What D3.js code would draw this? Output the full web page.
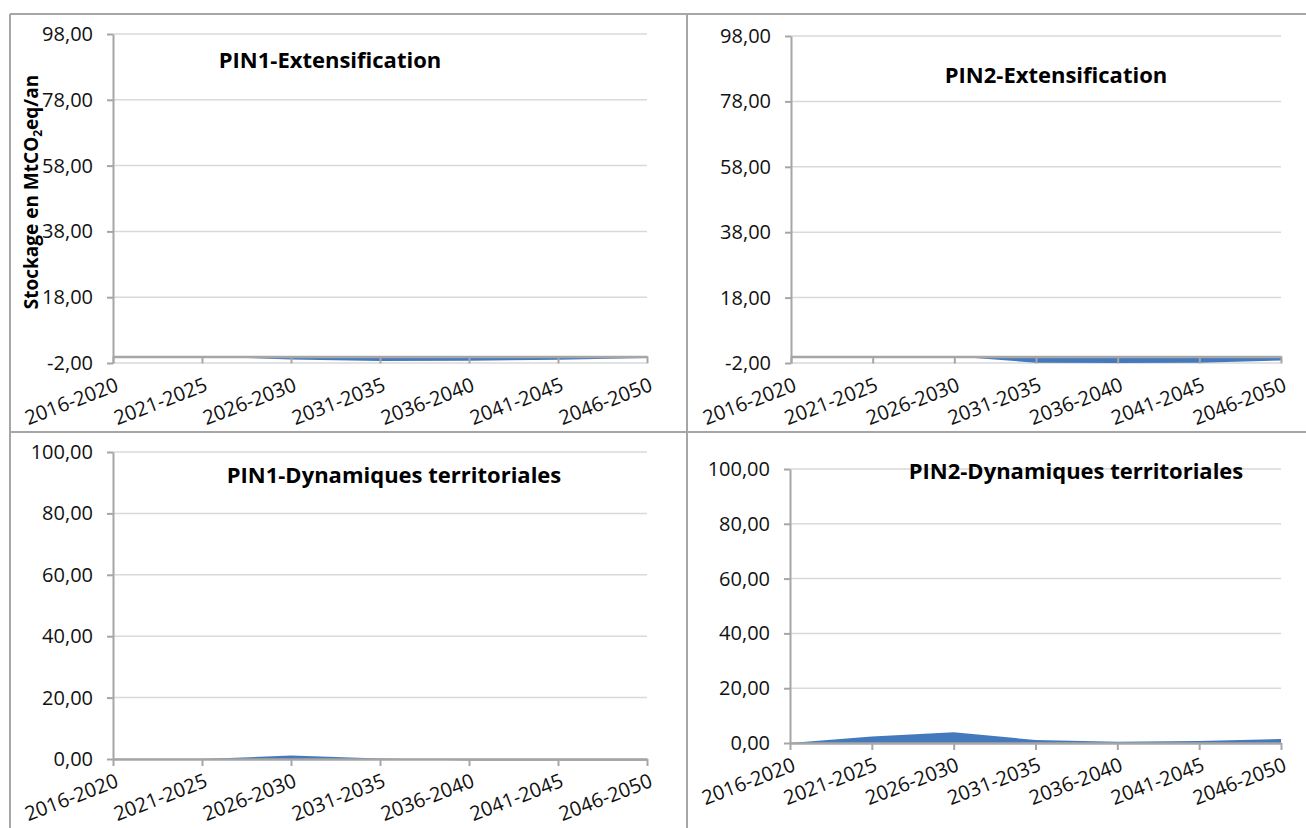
<!DOCTYPE html>
<html>
<head>
<meta charset="utf-8">
<script src="https://cdn.jsdelivr.net/npm/d3@7"></script>
<style>
  body { margin: 0; background: #fff; }
  svg { display: block; font-family: "Open Sans", Lato, sans-serif; }
</style>
</head>
<body>
<svg id="chart" width="1306" height="828"></svg>
<script>
// periods on the x axis (shared by the four panels)
const categories = ['2016-2020', '2021-2025', '2026-2030', '2031-2035', '2036-2040', '2041-2045', '2046-2050'];

// storage values, MtCO2eq/an
const pin1ExtValues = [0, -0.1, -0.9, -1.4, -1.3, -1.0, -0.5];
const pin2ExtValues = [0, 0, 0, -1.9, -2.0, -1.9, -1.2];
const pin1DynValues = [0, 0, 1.1, 0.2, -0.5, -0.5, -0.5];
const pin2DynValues = [0, 2.4, 3.9, 1.1, 0.5, 0.7, 1.5];

// y tick labels
const extTicks = [-2, 18, 38, 58, 78, 98];
const dynTicks = [0, 20, 40, 60, 80, 100];

const titles = ['PIN1-Extensification', 'PIN2-Extensification',
                'PIN1-Dynamiques territoriales', 'PIN2-Dynamiques territoriales'];

const svg = d3.select('#chart');

const fmt = d3.formatLocale({ decimal: ',', thousands: ' ', grouping: [3], currency: ['', '€'], minus: '-' })
    .format('.2f');

const panels = [
    { values: pin1ExtValues, ticks: extTicks, title: titles[0],
      left: 113, right: 647, top: 34, bottom: 363, tx: 330, ty: 68 },
    { values: pin2ExtValues, ticks: extTicks, title: titles[1],
      left: 791, right: 1281, top: 36, bottom: 363, tx: 1056, ty: 83 },
    { values: pin1DynValues, ticks: dynTicks, title: titles[2],
      left: 113, right: 647, top: 452, bottom: 759, tx: 394, ty: 483 },
    { values: pin2DynValues, ticks: dynTicks, title: titles[3],
      left: 790, right: 1281, top: 469, bottom: 743, tx: 1076, ty: 479 }
];

// frame around the panels
const frame = svg.append('g')
    .attr('stroke', '#a6a6a6')
    .attr('stroke-width', 2);
frame.append('line').attr('x1', 10).attr('x2', 1306).attr('y1', 14).attr('y2', 14);
frame.append('line').attr('x1', 10).attr('x2', 1306).attr('y1', 432).attr('y2', 432);
frame.append('line').attr('x1', 10).attr('x2', 10).attr('y1', 14).attr('y2', 828);
frame.append('line').attr('x1', 687).attr('x2', 687).attr('y1', 14).attr('y2', 828);

panels.forEach(p => {
    const g = svg.append('g');

    const xScale = d3.scalePoint()
        .domain(categories)
        .range([p.left, p.right]);

    const yScale = d3.scaleLinear()
        .domain([d3.min(p.ticks), d3.max(p.ticks)])
        .range([p.bottom, p.top]);

    // gridlines
    g.append('g')
        .selectAll('line')
        .data(p.ticks)
        .enter().append('line')
        .attr('x1', p.left)
        .attr('x2', p.right)
        .attr('y1', d => yScale(d))
        .attr('y2', d => yScale(d))
        .attr('stroke', '#d9d9d9')
        .attr('stroke-width', 1.5);

    // area
    const area = d3.area()
        .x((d, i) => xScale(categories[i]))
        .y0(yScale(0))
        .y1(d => yScale(d));

    g.append('path')
        .datum(p.values)
        .attr('d', area)
        .attr('fill', '#4579bd');

    // y axis
    const yAxis = d3.axisLeft(yScale)
        .tickValues(p.ticks)
        .tickFormat(fmt)
        .tickSize(6)
        .tickSizeOuter(0)
        .tickPadding(14);

    const yg = g.append('g')
        .attr('transform', `translate(${p.left},0)`)
        .call(yAxis);
    yg.selectAll('path, line').attr('stroke', '#a6a6a6').attr('stroke-width', 2);
    yg.selectAll('text')
        .attr('fill', '#111')
        .style('font-size', '20px')
        .style('font-family', '"Open Sans", sans-serif');

    // x axis, crossing at 0
    const xAxis = d3.axisBottom(xScale)
        .tickSize(7)
        .tickSizeOuter(0);

    const xg = g.append('g')
        .attr('transform', `translate(0,${yScale(0)})`)
        .call(xAxis);
    xg.select('.domain').attr('stroke', '#a6a6a6').attr('stroke-width', 2.5);
    xg.selectAll('line').attr('stroke', '#a6a6a6').attr('stroke-width', 2);
    xg.selectAll('text')
        .attr('x', 0)
        .attr('y', 0)
        .attr('dy', '0.71em')
        .attr('text-anchor', 'end')
        .attr('transform', `translate(1,${p.bottom - yScale(0) + 14}) rotate(-21)`)
        .attr('fill', '#111')
        .style('font-size', '20px')
        .style('font-family', '"Open Sans", sans-serif');

    // panel title
    g.append('text')
        .attr('x', p.tx)
        .attr('y', p.ty)
        .attr('text-anchor', 'middle')
        .attr('font-weight', 'bold')
        .style('font-size', '22px')
        .attr('fill', '#000')
        .text(p.title);
});

// y axis title
const yTitle = svg.append('text')
    .attr('transform', 'translate(38,192) rotate(-90)')
    .attr('text-anchor', 'middle')
    .attr('font-weight', 'bold')
    .style('font-size', '19px')
    .attr('fill', '#000');
yTitle.append('tspan').text('Stockage en MtCO');
yTitle.append('tspan').attr('dy', 4).style('font-size', '12px').text('2');
yTitle.append('tspan').attr('dy', -4).text('eq/an');
</script>
</body>
</html>
